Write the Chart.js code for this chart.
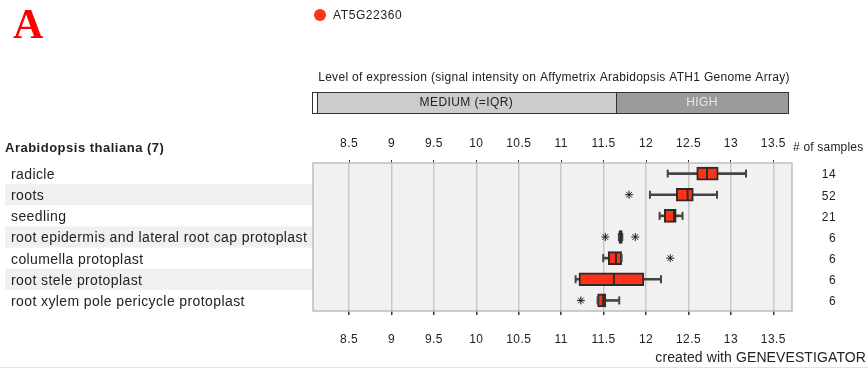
<!DOCTYPE html>
<html>
<head>
<meta charset="utf-8">
<script src="https://cdn.jsdelivr.net/npm/chart.js@4/dist/chart.umd.min.js"></script>
<style>
  html, body { margin: 0; padding: 0; background: #ffffff; }
  canvas { display: block; }
</style>
</head>
<body>
<canvas id="chart" width="868" height="369"></canvas>
<script>
// Sample groups (rows of the box plot)
const categories = [
  'radicle',
  'roots',
  'seedling',
  'root epidermis and lateral root cap protoplast',
  'columella protoplast',
  'root stele protoplast',
  'root xylem pole pericycle protoplast'
];
const sampleCounts = [14, 52, 21, 6, 6, 6, 6];

// Box plot statistics (signal intensity, log2)
const whiskerLow  = [12.255, 12.046, 12.160, 11.680, 11.495, 11.170, 11.429];
const quartile1   = [12.597, 12.356, 12.215, 11.680, 11.554, 11.209, 11.429];
const medians     = [12.718, 12.490, 12.330, 11.700, 11.645, 11.621, 11.495];
const quartile3   = [12.851, 12.557, 12.356, 11.720, 11.712, 11.975, 11.527];
const whiskerHigh = [13.178, 12.836, 12.430, 11.720, 11.712, 12.176, 11.684];

// Outliers
const outlierRows   = ['roots', 'root epidermis and lateral root cap protoplast',
                       'root epidermis and lateral root cap protoplast',
                       'columella protoplast', 'root xylem pole pericycle protoplast'];
const outlierValues = [11.80, 11.52, 11.873, 12.285, 11.232];

// Axis
const tickValues = [8.5, 9, 9.5, 10, 10.5, 11, 11.5, 12, 12.5, 13, 13.5];
const axisMin = 8.075;
const axisMax = 13.72;

// Expression level bands above the plot
const levelBounds = [8.063, 8.12, 11.645, 13.673];
const levelNames  = ['', 'MEDIUM (=IQR)', 'HIGH'];

const geneName = 'AT5G22360';
const speciesTitle = 'Arabidopsis thaliana (7)';
const levelTitle = 'Level of expression (signal intensity on Affymetrix Arabidopsis ATH1 Genome Array)';

const FONT = '"Liberation Sans", Arial, sans-serif';
const BOX_RED = '#fe3216';
const INK = '#222222';

function text(ctx, str, x, y, font, spacing, align) {
  ctx.font = font;
  ctx.letterSpacing = spacing + 'px';
  ctx.textAlign = align || 'left';
  ctx.fillText(str, x, y);
}

const frameAndDecor = {
  id: 'frameAndDecor',
  beforeDraw(chart) {
    const { ctx, chartArea: a } = chart;
    const ys = chart.scales.y;
    const rowH = (a.bottom - a.top) / categories.length;
    ctx.save();
    // alternating row bands in the label column
    ctx.fillStyle = '#f0f0f0';
    categories.forEach((c, i) => {
      if (i % 2 === 1) {
        const yc = ys.getPixelForValue(i);
        ctx.fillRect(5, yc - rowH / 2, a.left - 5, rowH);
      }
    });
    // plot background
    ctx.fillStyle = '#f1f1f1';
    ctx.fillRect(a.left, a.top, a.right - a.left, a.bottom - a.top);
    ctx.restore();
    // slightly open tracking for the axis labels
    ctx.letterSpacing = '0.4px';
  },
  afterDraw(chart) {
    const { ctx, chartArea: a } = chart;
    const xs = chart.scales.x;
    const ys = chart.scales.y;
    ctx.save();

    // plot frame
    ctx.strokeStyle = '#bdbdbd';
    ctx.lineWidth = 1.5;
    ctx.strokeRect(a.left, a.top, a.right - a.left, a.bottom - a.top);

    // panel letter
    ctx.fillStyle = '#ff0000';
    ctx.textBaseline = 'alphabetic';
    text(ctx, 'A', 13, 38, 'bold 42px "Liberation Serif", "Times New Roman", serif', 0);

    // gene legend
    ctx.fillStyle = BOX_RED;
    ctx.beginPath();
    ctx.arc(320, 15, 6, 0, Math.PI * 2);
    ctx.fill();
    ctx.fillStyle = INK;
    ctx.textBaseline = 'middle';
    text(ctx, geneName, 333, 15.5, '12px ' + FONT, 0.6);

    // level title
    text(ctx, levelTitle, 554, 77.5, '12px ' + FONT, 0.3, 'center');

    // level bar
    const barTop = 92, barH = 21;
    const px = levelBounds.map(v => xs.getPixelForValue(v));
    const segColors = ['#ffffff', '#cccccc', '#9b9b9b'];
    const textColors = [INK, INK, '#e8e8e8'];
    for (let i = 0; i < levelNames.length; i++) {
      ctx.fillStyle = segColors[i];
      ctx.fillRect(px[i], barTop, px[i + 1] - px[i], barH);
      if (levelNames[i]) {
        ctx.fillStyle = textColors[i];
        text(ctx, levelNames[i], (px[i] + px[i + 1]) / 2, barTop + barH / 2 + 0.5, '12px ' + FONT, 0.4, 'center');
      }
    }
    ctx.strokeStyle = '#333333';
    ctx.lineWidth = 1;
    for (let i = 1; i < px.length - 1; i++) {
      ctx.beginPath();
      ctx.moveTo(Math.round(px[i]) + 0.5, barTop);
      ctx.lineTo(Math.round(px[i]) + 0.5, barTop + barH);
      ctx.stroke();
    }
    ctx.strokeRect(Math.round(px[0]) + 0.5, barTop + 0.5, px[px.length - 1] - px[0], barH);

    // species header
    ctx.fillStyle = INK;
    text(ctx, speciesTitle, 5, 148, 'bold 13px ' + FONT, 0.5);

    // sample counts column
    text(ctx, '# of samples', 793, 148, '12px ' + FONT, 0.2);
    sampleCounts.forEach((n, i) => {
      text(ctx, String(n), 836, ys.getPixelForValue(i) + 1.5, '12px ' + FONT, 0.4, 'right');
    });

    // footer
    text(ctx, 'created with GENEVESTIGATOR', 866, 358, '14px ' + FONT, 0.1, 'right');
    ctx.strokeStyle = '#e2e2e2';
    ctx.beginPath();
    ctx.moveTo(0, 367.5);
    ctx.lineTo(868, 367.5);
    ctx.stroke();

    ctx.restore();
    ctx.letterSpacing = '0px';
  },
  afterDatasetsDraw(chart) {
    // whisker caps and median lines
    const { ctx } = chart;
    const xs = chart.scales.x;
    const ys = chart.scales.y;
    ctx.save();
    categories.forEach((c, i) => {
      const yc = ys.getPixelForValue(i);
      ctx.strokeStyle = '#444444';
      ctx.lineWidth = 2;
      [whiskerLow[i], whiskerHigh[i]].forEach(v => {
        const x = xs.getPixelForValue(v);
        ctx.beginPath();
        ctx.moveTo(x, yc - 4);
        ctx.lineTo(x, yc + 4);
        ctx.stroke();
      });
      ctx.strokeStyle = '#2a2a2a';
      const xm = xs.getPixelForValue(medians[i]);
      ctx.beginPath();
      ctx.moveTo(xm, yc - 6);
      ctx.lineTo(xm, yc + 6);
      ctx.stroke();
    });
    ctx.restore();
  }
};

const sharedTicks = {
  color: INK,
  font: { family: FONT, size: 12 },
  maxRotation: 0,
  autoSkip: false,
  callback: v => String(v)
};

new Chart(document.getElementById('chart'), {
  type: 'bar',
  data: {
    labels: categories,
    datasets: [
      {
        type: 'scatter',
        label: 'outliers',
        data: outlierRows.map((r, i) => ({ x: outlierValues[i], y: r })),
        pointStyle: 'star',
        radius: 4,
        borderWidth: 1,
        borderColor: '#1e1e1e',
        backgroundColor: '#1e1e1e',
        showLine: false,
        order: 0
      },
      {
        label: 'box',
        data: categories.map((c, i) => [quartile1[i], quartile3[i]]),
        backgroundColor: BOX_RED,
        borderColor: '#2a2a2a',
        borderWidth: 2,
        borderSkipped: false,
        barThickness: 13,
        grouped: false,
        order: 1
      },
      {
        label: 'whisker',
        data: categories.map((c, i) => [whiskerLow[i], whiskerHigh[i]]),
        backgroundColor: '#444444',
        borderWidth: 0,
        barThickness: 2,
        grouped: false,
        order: 2
      }
    ]
  },
  options: {
    indexAxis: 'y',
    responsive: false,
    animation: false,
    devicePixelRatio: 1,
    layout: { padding: { left: 11, right: 76, top: 0, bottom: 0 } },
    plugins: { legend: { display: false }, tooltip: { enabled: false } },
    scales: {
      x: {
        type: 'linear',
        position: 'bottom',
        min: axisMin,
        max: axisMax,
        afterBuildTicks: s => { s.ticks = tickValues.map(v => ({ value: v })); },
        afterFit: s => { s.height = 58; },
        grid: { color: '#c8c8c8', lineWidth: 1.5, tickColor: '#333333', tickLength: 4, drawOnChartArea: true },
        border: { display: false },
        ticks: Object.assign({ padding: 17 }, sharedTicks)
      },
      x2: {
        type: 'linear',
        position: 'top',
        min: axisMin,
        max: axisMax,
        afterBuildTicks: s => { s.ticks = tickValues.map(v => ({ value: v })); },
        afterFit: s => { s.height = 163; },
        grid: { drawOnChartArea: false, tickColor: '#333333', tickLength: 3 },
        border: { display: false },
        ticks: Object.assign({ padding: 9 }, sharedTicks)
      },
      y: {
        type: 'category',
        position: 'left',
        offset: true,
        afterFit: s => { s.width = 302; },
        grid: { display: false },
        border: { display: false },
        ticks: { color: INK, font: { family: FONT, size: 14 }, crossAlign: 'far', padding: 0, labelOffset: 1.5 }
      }
    }
  },
  plugins: [frameAndDecor]
});
</script>
</body>
</html>
